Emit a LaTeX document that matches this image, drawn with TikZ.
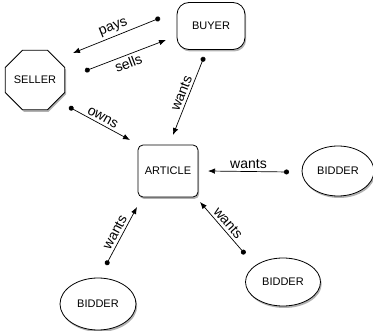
\documentclass[tikz,border=0pt]{standalone}
\usepackage{fontspec}
\setmainfont{Liberation Sans}
\usetikzlibrary{shapes.geometric,shadows,arrows.meta,calc}
\begin{document}
\begin{tikzpicture}[x=1pt,y=-1pt,
  ent/.style={draw=black,line width=0.8pt,fill=white,font=\fontsize{11}{13}\selectfont,
    drop shadow={shadow xshift=1.2pt,shadow yshift=-2pt,opacity=0.3,fill=black}},
  octa/.style={ent,regular polygon,regular polygon sides=8,minimum size=57pt,inner sep=0pt},
  rbox/.style={ent,rectangle,rounded corners=#1},
  bid/.style={ent,ellipse,minimum width=72pt,minimum height=50pt,inner sep=0pt},
  rel/.style={line width=0.7pt,{Circle[length=5pt]}-{Latex[length=7pt,width=5.5pt]}},
  lab/.style={font=\fontsize{14}{16}\selectfont,inner sep=2.5pt}]
\useasboundingbox (0,0) rectangle (373,331);
\node[octa] (seller) at (35,80) {SELLER};
\node[rbox=12pt,minimum width=68pt,minimum height=47pt] (buyer) at (211,26) {BUYER};
\node[rbox=5pt,minimum width=60pt,minimum height=52pt] (article) at (168,171) {ARTICLE};
\node[bid] (bidR) at (338,171) {BIDDER};
\node[bid,minimum width=76pt,minimum height=52pt] (bidBL) at (98,304) {BIDDER};
\node[bid,minimum width=75pt,minimum height=48pt] (bidBR) at (283,282) {BIDDER};
\draw[rel] ($(buyer)+(-51,-8)$) -- node[lab,above,sloped]{pays} ($(seller)+(38,-27)$);
\draw[rel] ($(seller)+(50,-9)$) -- node[lab,below,sloped]{sells} ($(buyer)+(-45,14)$);
\draw[rel] ($(seller)+(34,27)$) -- node[lab,above,sloped]{owns} ($(article)+(-38,-31)$);
\draw[rel] ($(buyer)+(-7,31)$) -- node[lab,above,sloped]{wants} ($(article)+(5,-36)$);
\draw[rel] ($(bidR)+(-49,1)$) -- node[lab,above]{wants} ($(article)+(40,0)$);
\draw[rel] ($(bidBL)+(8,-39)$) -- node[lab,above,sloped]{wants} ($(article)+(-31,36)$);
\draw[rel] ($(bidBR)+(-38,-28)$) -- node[lab,above,sloped]{wants} ($(article)+(32,31)$);
\end{tikzpicture}
\end{document}
